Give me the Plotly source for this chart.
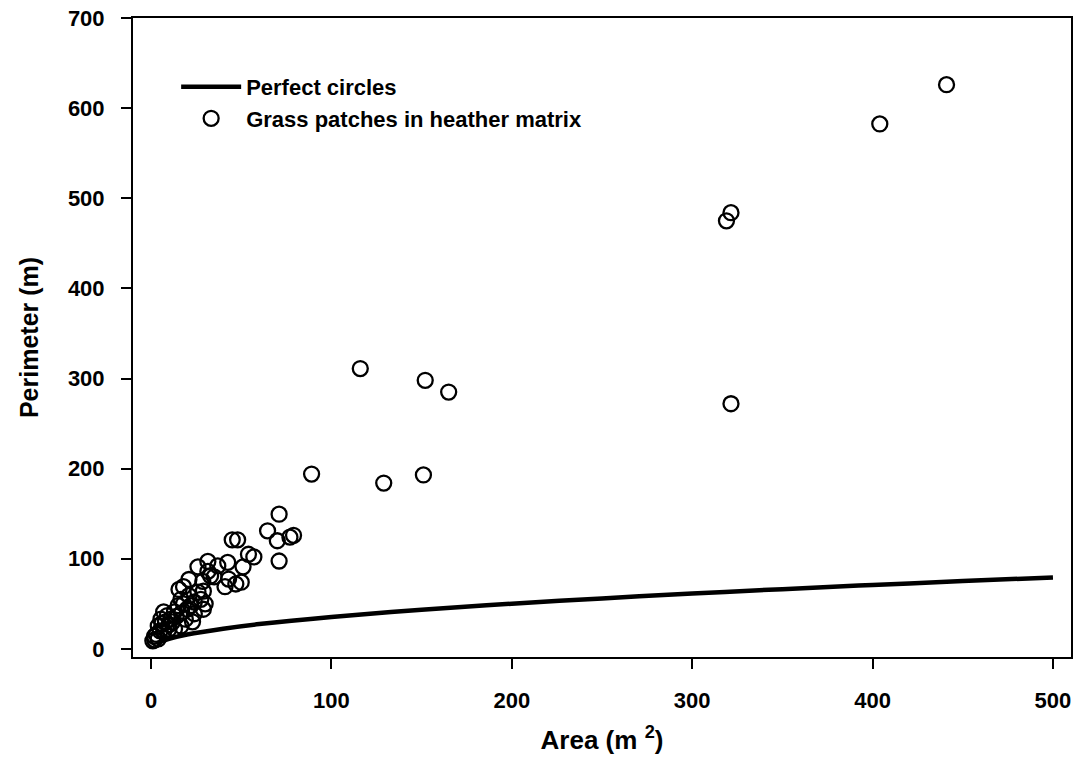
import plotly.graph_objects as go

# Perfect circles reference curve
circle_area = [3, 5, 10, 20, 40, 60, 100, 150, 200, 250, 300, 350, 400, 450, 500]
circle_perim = [6.1, 7.9, 11.2, 15.9, 22.4, 27.5, 35.4, 43.4, 50.1, 56.0, 61.4, 66.3, 70.9, 75.2, 79.3]

# Grass patches in heather matrix
patch_area = [441, 404, 321.5, 319, 321.5, 116, 152, 165, 89, 129, 151,
              71, 64.6, 70, 79, 77, 71, 48, 45, 54, 57, 51, 42.5, 43, 47, 50,
              31.5, 26, 28.7, 33, 29, 41, 18, 21, 27.6, 29, 24, 23, 16.6, 15,
              13, 11, 9, 7, 5.5, 4, 1.9, 1, 4, 7, 13, 16.6, 19, 20, 26, 21,
              15.5, 31.5, 37, 35,
              2, 3, 5, 6, 8, 10, 12, 14, 17, 22, 24, 30, 10, 18]
patch_perim = [626, 582.5, 484, 475, 272, 311, 298, 285, 194, 184, 193,
               149.5, 131, 120, 126, 124, 97.5, 121, 121, 105, 102, 91, 96, 77.5, 72, 74,
               97, 91, 75, 81, 64, 69, 69, 59, 55, 44, 39, 30, 55, 48,
               41, 33, 37, 41, 33, 25.5, 14, 9, 11, 19, 22, 25.5, 33, 44, 63, 77,
               66, 86, 92, 80,
               10, 16, 20, 28, 30, 27, 30, 36, 40, 48, 52, 50, 22, 50]

x_ticks = [0, 100, 200, 300, 400, 500]
y_ticks = [0, 100, 200, 300, 400, 500, 600, 700]

FONT = "Liberation Sans"

fig = go.Figure()
fig.add_trace(go.Scatter(
    x=circle_area, y=circle_perim, mode="lines", name="Perfect circles",
    line=dict(color="black", width=4.5, shape="spline"),
))
fig.add_trace(go.Scatter(
    x=patch_area, y=patch_perim, mode="markers", name="Grass patches in heather matrix",
    marker=dict(symbol="circle-open", size=15, color="black", line=dict(width=2.3, color="black")),
))

axis_common = dict(
    showgrid=False, zeroline=False, showline=True, linecolor="black", linewidth=2,
    mirror=True, ticks="outside", ticklen=10, tickwidth=2, tickcolor="black",
    tickfont=dict(family=FONT, size=22, color="black", weight="bold"),
)

fig.update_layout(
    width=1078, height=769,
    paper_bgcolor="white", plot_bgcolor="white",
    margin=dict(l=133, r=5, t=18, b=112),
    font=dict(family=FONT, color="black"),
    xaxis=dict(range=[-10, 510], tickvals=x_ticks, ticklabelstandoff=13,
               title=dict(text="Area (m <sup>2</sup>)", font=dict(family=FONT, size=26, color="black", weight="bold"), standoff=18),
               **axis_common),
    yaxis=dict(range=[-9, 700], tickvals=y_ticks, ticklabelstandoff=12,
               title=dict(text="Perimeter (m)", font=dict(family=FONT, size=25, color="black", weight="bold"), standoff=22),
               **axis_common),
    legend=dict(x=0.046, y=0.925, xanchor="left", yanchor="top",
                font=dict(family=FONT, size=22, color="black", weight="bold"),
                bgcolor="rgba(0,0,0,0)", itemwidth=60, tracegroupgap=0),
    showlegend=True,
)

fig.write_html("out.html")
